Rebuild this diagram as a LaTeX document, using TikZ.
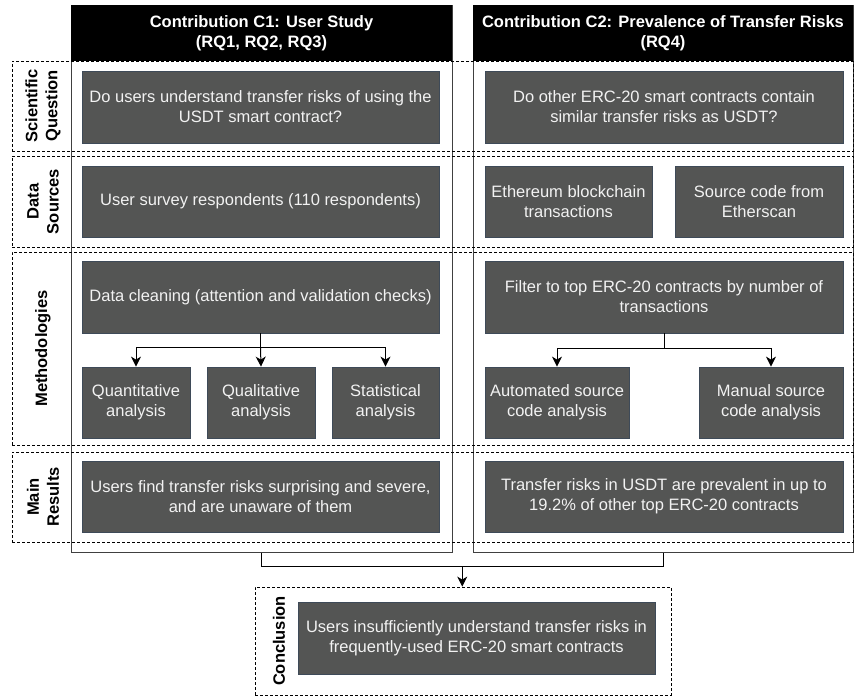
\documentclass[tikz,border=0pt]{standalone}
\usepackage{fontspec}
\setmainfont{Liberation Sans}
\usetikzlibrary{arrows.meta,calc}
\definecolor{boxfill}{RGB}{84,85,84}
\definecolor{boxline}{RGB}{62,74,88}
\definecolor{boxtext}{RGB}{242,242,242}
\begin{document}
\begin{tikzpicture}[x=1pt,y=-1pt,
  font=\fontsize{16.5}{20}\selectfont,
  gbox/.style={draw=boxline, line width=0.8pt, fill=boxfill, text=boxtext, align=center, inner sep=0pt},
  colframe/.style={draw=black!75, line width=1pt, fill=white, inner sep=0pt},
  headbox/.style={fill=black, text=white, font=\fontsize{16.5}{20}\selectfont\bfseries, align=center, inner sep=0pt},
  rowband/.style={draw=black, dash pattern=on 3pt off 2pt, line width=0.8pt, inner sep=0pt},
  rlabel/.style={rotate=90, font=\fontsize{16.5}{20}\selectfont\bfseries, align=center, inner sep=0pt},
  conn/.style={draw=black, line width=1pt},
  arr/.style={conn, -{Stealth[length=10pt,width=10pt,inset=3pt]}}]
\useasboundingbox (0,0) rectangle (855,696);

% column frames
\node[colframe, minimum width=381pt, minimum height=547pt] (c1f) at (261.5,278.5) {};
\node[colframe, minimum width=380pt, minimum height=547pt] (c2f) at (663,278.5) {};
\node[headbox, minimum width=381pt, minimum height=56pt] (c1h) at (261.5,33) {Contribution C1: User Study\\(RQ1, RQ2, RQ3)};
\node[headbox, minimum width=380pt, minimum height=56pt] (c2h) at (663,33) {Contribution C2: Prevalence of Transfer Risks\\(RQ4)};

% row bands
\node[rowband, minimum width=841pt, minimum height=90pt] (rowA) at (432.5,106) {};
\node[rowband, minimum width=841pt, minimum height=91pt] (rowB) at (432.5,201.5) {};
\node[rowband, minimum width=841pt, minimum height=193pt] (rowC) at (432.5,348.5) {};
\node[rowband, minimum width=841pt, minimum height=90pt] (rowD) at (432.5,497) {};

\node[rlabel] (labA) at (43,106) {Scientific\\Question};
\node[rlabel] (labB) at (43,201.5) {Data\\Sources};
\node[rlabel] (labC) at (43,348.5) {Methodologies};
\node[rlabel] (labD) at (43,497) {Main\\Results};

% row A
\node[gbox, minimum width=357pt, minimum height=72pt] (q1) at (260.5,107) {Do users understand transfer risks of using the\\USDT smart contract?};
\node[gbox, minimum width=358pt, minimum height=72pt] (q2) at (664,107) {Do other ERC-20 smart contracts contain\\similar transfer risks as USDT?};

% row B
\node[gbox, minimum width=357pt, minimum height=71pt] (s1) at (260.5,201.5) {User survey respondents (110 respondents)};
\node[gbox, minimum width=167pt, minimum height=71pt] (s2a) at (568.5,201.5) {Ethereum blockchain\\transactions};
\node[gbox, minimum width=168pt, minimum height=71pt] (s2b) at (759,201.5) {Source code from\\Etherscan};

% row C
\node[gbox, minimum width=357pt, minimum height=72pt] (clean) at (260.5,297) {Data cleaning (attention and validation checks)};
\node[gbox, minimum width=108pt, minimum height=71pt] (quant) at (136,402.5) {Quantitative\\analysis};
\node[gbox, minimum width=108pt, minimum height=71pt] (qual) at (261,402.5) {Qualitative\\analysis};
\node[gbox, minimum width=107pt, minimum height=71pt] (stat) at (385.5,402.5) {Statistical\\analysis};

\node[gbox, minimum width=358pt, minimum height=72pt] (filter) at (664,297) {Filter to top ERC-20 contracts by number of\\transactions};
\node[gbox, minimum width=144pt, minimum height=71pt] (auto) at (557,402.5) {Automated source\\code analysis};
\node[gbox, minimum width=144pt, minimum height=71pt] (manual) at (771,402.5) {Manual source\\code analysis};

% row D
\node[gbox, minimum width=357pt, minimum height=71pt] (r1) at (260.5,496.5) {Users find transfer risks surprising and severe,\\and are unaware of them};
\node[gbox, minimum width=358pt, minimum height=71pt] (r2) at (664,496.5) {Transfer risks in USDT are prevalent in up to\\19.2\% of other top ERC-20 contracts};

% conclusion
\node[rowband, minimum width=416pt, minimum height=108pt] (cband) at (463,641) {};
\node[rlabel] (labE) at (279,641) {Conclusion};
\node[gbox, minimum width=357pt, minimum height=72pt] (concl) at (476.5,638) {Users insufficiently understand transfer risks in\\frequently-used ERC-20 smart contracts};

% connectors C1
\draw[conn] (clean.south) -- ++(0,14) coordinate (j1);
\draw[arr] (j1) -| (quant.north);
\draw[arr] (j1) -- (qual.north);
\draw[arr] (j1) -| (stat.north);

% connectors C2
\draw[conn] (filter.south) -- ++(0,15) coordinate (j2);
\draw[arr] (j2) -| (auto.north);
\draw[arr] (j2) -| (manual.north);

% to conclusion
\draw[conn] (c1f.south) -- ++(0,14) coordinate (m1);
\draw[conn] (c2f.south) -- ++(0,14) coordinate (m2);
\draw[conn] (m1) -- (m2);
\coordinate (mid) at ($(m1)!0.5!(m2)$);
\draw[arr] (mid) -- (mid |- cband.north);
\end{tikzpicture}
\end{document}
